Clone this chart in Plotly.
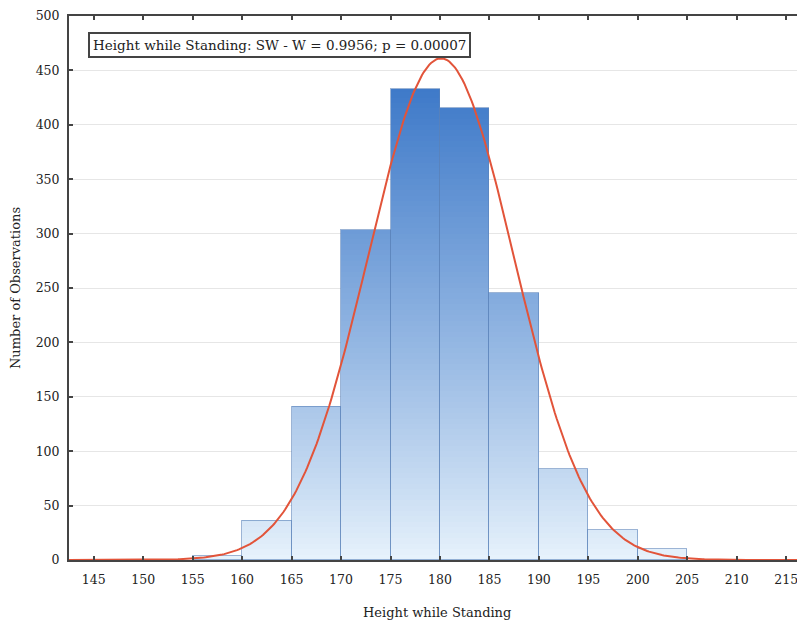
import numpy as np
import plotly.graph_objects as go

# ---- data ----
bin_left = [155, 160, 165, 170, 175, 180, 185, 190, 195, 200]
bin_width = 5
counts = [4, 36, 141, 303, 433, 415, 245, 84, 28, 10]
fit_mean = 180.1
fit_sd = 7.35
x_ticks = [145, 150, 155, 160, 165, 170, 175, 180, 185, 190, 195, 200, 205, 210, 215]
y_ticks = [0, 50, 100, 150, 200, 250, 300, 350, 400, 450, 500]
title_text = "Height while Standing: SW - W = 0.9956; p = 0.00007"
x_title = "Height while Standing"
y_title = "Number of Observations"

centers = [b + bin_width / 2 for b in bin_left]
n_total = sum(counts)

FONT = "DejaVu Serif"
fig = go.Figure()

# gradient fill: stacked slices coloured by absolute height
c0 = np.array([232, 243, 252])
c1 = np.array([60, 120, 200])
band = 5
top = max(counts)
for lo in range(0, int(np.ceil(top / band)) * band, band):
    hs = [max(0, min(c - lo, band)) for c in counts]
    t = min(1.0, (lo + band / 2) / 440) ** 0.9
    col = c0 + (c1 - c0) * t
    fig.add_trace(go.Bar(
        x=centers, y=hs, width=bin_width,
        marker=dict(color=f"rgb({col[0]:.0f},{col[1]:.0f},{col[2]:.0f})", line=dict(width=0)),
        showlegend=False, hoverinfo="skip"))

# outlines
fig.add_trace(go.Bar(
    x=centers, y=counts, base=0, width=bin_width,
    marker=dict(color="rgba(0,0,0,0)", line=dict(color="rgba(90,130,185,0.6)", width=1)),
    showlegend=False))

# fitted normal curve
xs = np.linspace(142.5, 217, 400)
ys = n_total * bin_width / (fit_sd * np.sqrt(2 * np.pi)) * np.exp(-0.5 * ((xs - fit_mean) / fit_sd) ** 2)
fig.add_trace(go.Scatter(x=xs, y=ys, mode="lines",
                         line=dict(color="rgb(226,84,58)", width=2), showlegend=False))

fig.add_annotation(
    x=0.026, y=0.971, xref="paper", yref="paper", xanchor="left", yanchor="top",
    text=title_text, showarrow=False,
    font=dict(family=FONT, size=13.5, color="#222"),
    bordercolor="#444", borderwidth=2, borderpad=3, bgcolor="white")

fig.add_annotation(x=0.5, y=-0.096, xref="paper", yref="paper", xanchor="center", yanchor="middle",
                   text=x_title, showarrow=False,
                   font=dict(family=FONT, size=13, color="#222"))
fig.add_annotation(x=0, y=0.5, xref="paper", yref="paper", xanchor="center", yanchor="middle",
                   xshift=-54, text=y_title, textangle=-90, showarrow=False,
                   font=dict(family=FONT, size=13, color="#222"))

fig.update_layout(
    width=797, height=616,
    margin=dict(l=61, r=0, t=8, b=64),
    paper_bgcolor="white", plot_bgcolor="white",
    barmode="stack", bargap=0,
    font=dict(family=FONT, size=12.5, color="#222"),
    xaxis=dict(range=[142.5, 216.9], tickvals=x_ticks, showgrid=False, zeroline=False,
               showline=True, linecolor="#444", linewidth=2, mirror="ticks",
               ticks="inside", ticklen=4, tickwidth=2, tickcolor="#444",
               ticklabelstandoff=7, automargin=False),
    yaxis=dict(range=[0, 500], tickvals=y_ticks, showgrid=True, gridcolor="#e6e6e6", gridwidth=1,
               zeroline=False, showline=True, linecolor="#444", linewidth=2,
               ticks="inside", ticklen=4, tickwidth=2, tickcolor="#444",
               ticklabelstandoff=5, automargin=False),
)

fig.write_html("out.html")
